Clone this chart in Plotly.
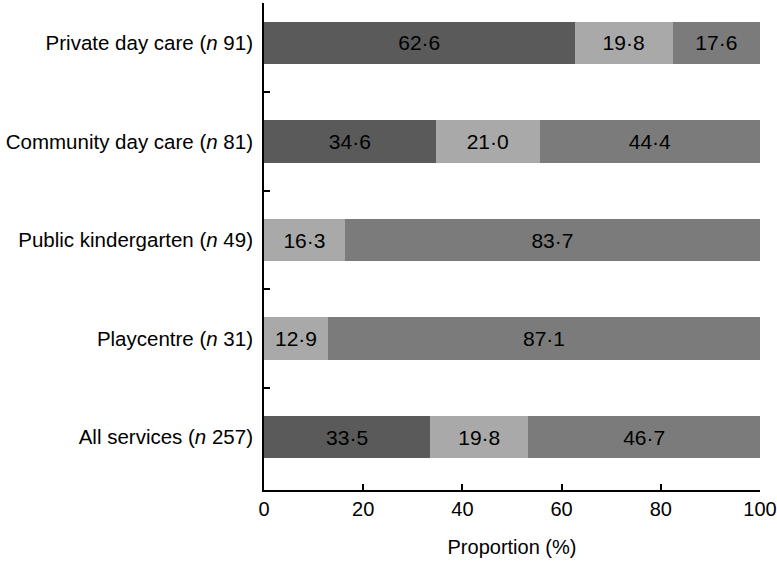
import plotly.graph_objects as go

categories = ["Private day care (<i>n</i> 91)", "Community day care (<i>n</i> 81)",
              "Public kindergarten (<i>n</i> 49)", "Playcentre (<i>n</i> 31)",
              "All services (<i>n</i> 257)"]
dark_vals = [62.6, 34.6, 0, 0, 33.5]
light_vals = [19.8, 21.0, 16.3, 12.9, 19.8]
medium_vals = [17.6, 44.4, 83.7, 87.1, 46.7]
x_ticks = [0, 20, 40, 60, 80, 100]

def fmt(vals):
    return [("%.1f" % v).replace(".", "\u00b7") if v > 0 else "" for v in vals]

fig = go.Figure()
for vals, col in [(dark_vals, "#5a5a5a"), (light_vals, "#a9a9a9"), (medium_vals, "#7b7b7b")]:
    fig.add_trace(go.Bar(
        y=categories, x=vals, orientation="h", marker=dict(color=col, line=dict(width=0)),
        text=fmt(vals), textposition="inside", insidetextanchor="middle",
        textfont=dict(color="black", size=21, family="Liberation Sans"),
        width=0.43, showlegend=False))

fig.update_layout(
    barmode="stack", width=777, height=562,
    margin=dict(l=264, r=17, t=3, b=72, autoexpand=False),
    plot_bgcolor="white", paper_bgcolor="white",
    font=dict(family="Liberation Sans", size=20, color="black"),
    uniformtext=dict(mode=False),
)
fig.update_xaxes(range=[0, 100], tickvals=x_ticks, ticks="inside", ticklen=6,
                 tickcolor="black", tickwidth=1.5, showline=True, linecolor="black", linewidth=1.8,
                 showgrid=False, zeroline=False,
                 title=dict(text="Proportion (%)", standoff=21,
                            font=dict(size=20, family="Liberation Sans", color="black")),
                 tickfont=dict(size=20))
fig.update_yaxes(categoryorder="array", categoryarray=categories, range=[4.538, -0.406],
                 tickson="boundaries", ticks="inside", ticklen=6, tickcolor="black", tickwidth=1.5,
                 showline=True, linecolor="black", linewidth=1.8, showgrid=False,
                 ticklabelstandoff=5, tickfont=dict(size=20.5))
fig.write_html("out.html", config={"displayModeBar": False},
               post_script="document.body.style.margin='0';")
